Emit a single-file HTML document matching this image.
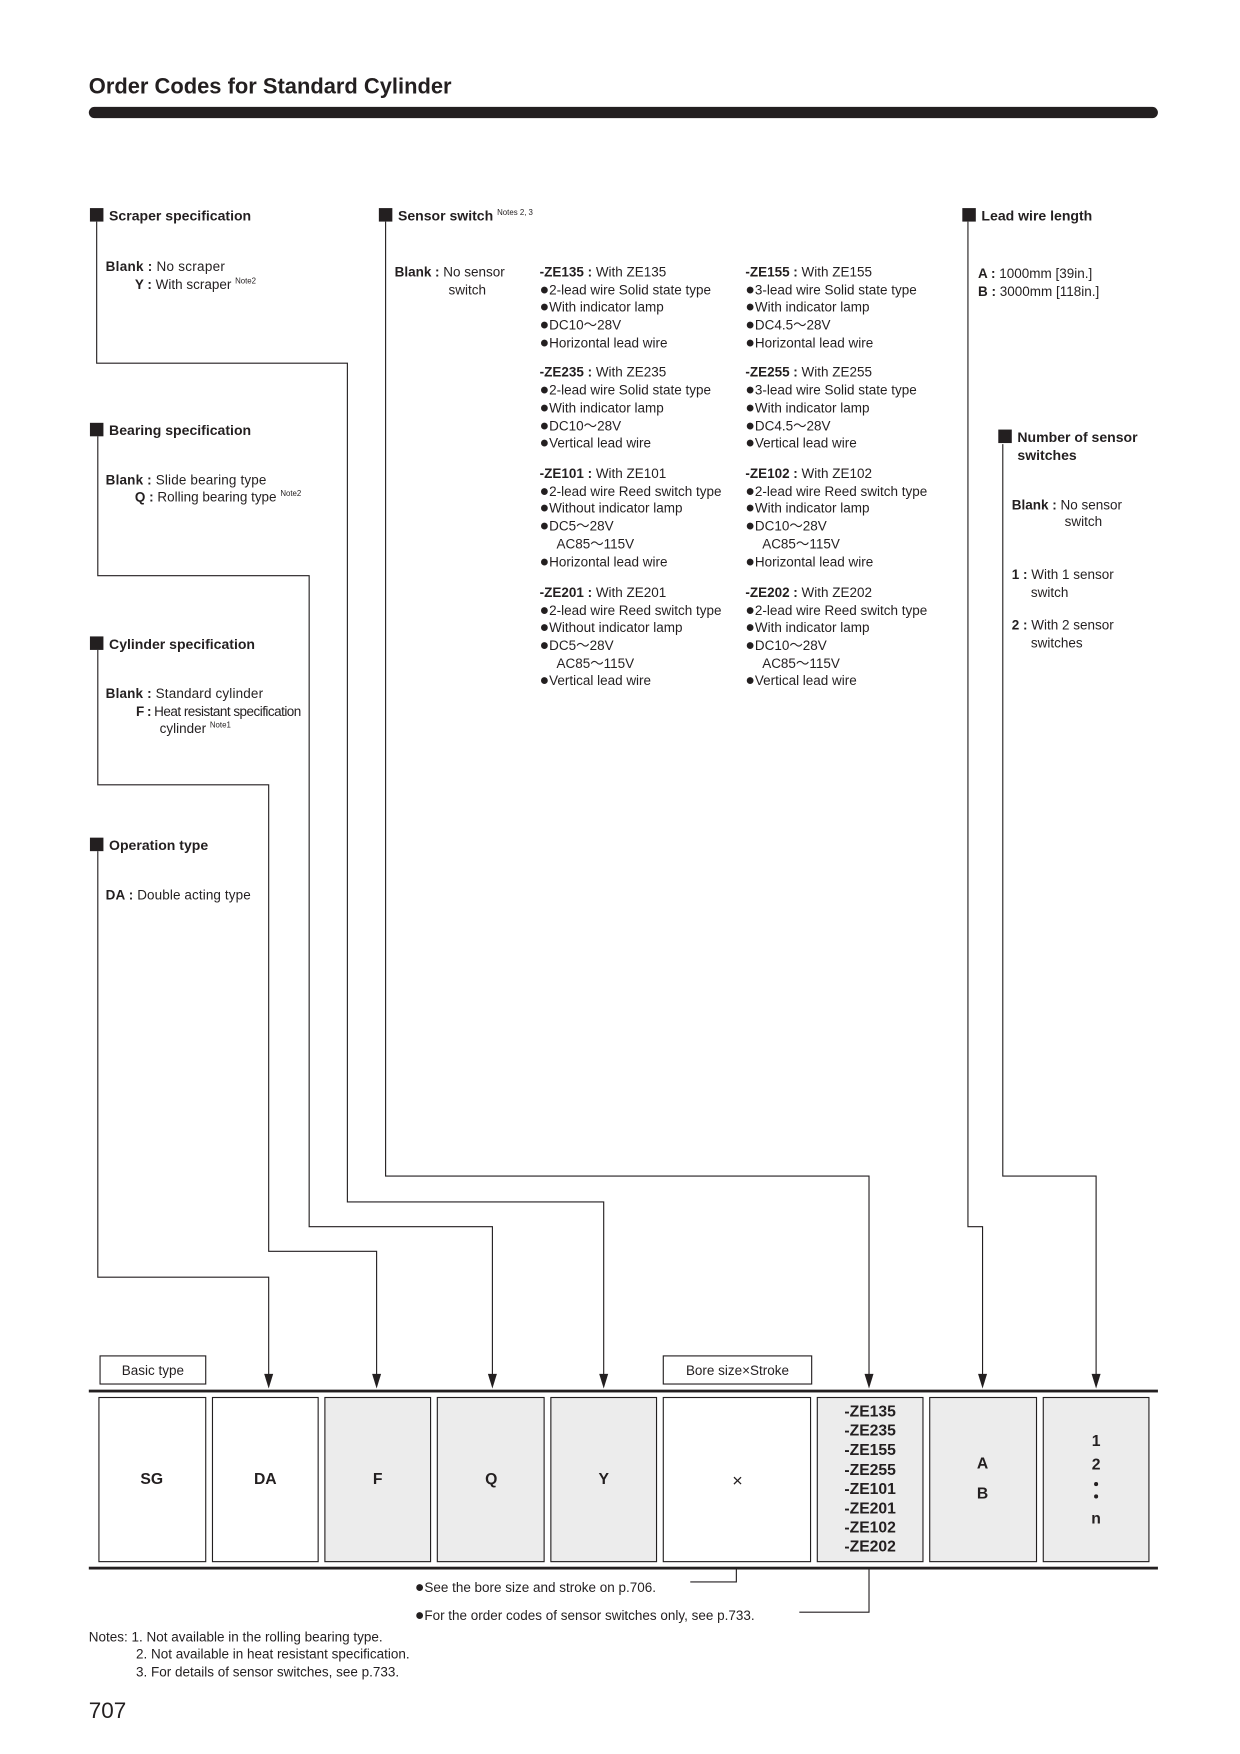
<!DOCTYPE html>
<html><head><meta charset="utf-8"><style>
html,body{margin:0;padding:0;background:#fff}
svg{display:block}
text{font-family:"Liberation Sans",Arial,sans-serif;fill:#231f20}
.b{font-weight:bold}
.s{font-size:12px}
.h{font-size:12.5px;font-weight:bold}
.sup{font-size:7px}
.d{font-size:14px}
</style></head><body>
<svg width="1240" height="1754" viewBox="0 0 1103 1560" xmlns="http://www.w3.org/2000/svg">
<text x="79" y="83" style="font-size:19.5px;font-weight:bold">Order Codes for Standard Cylinder</text>
<rect x="79" y="95" width="951" height="10" rx="5" fill="#231f20"/>

<g stroke="#231f20" stroke-width="1" fill="none">
<polyline points="86,197 86,323 309,323 309,1069 537,1069 537,1224"/>
<polyline points="87,388 87,512 275,512 275,1091 438,1091 438,1224"/>
<polyline points="87,578 87,698 239,698 239,1113 335,1113 335,1224"/>
<polyline points="87,757 87,1136 239,1136 239,1224"/>
<polyline points="343,197 343,1046 773,1046 773,1224"/>
<polyline points="861,197 861,1091 874,1091 874,1224"/>
<polyline points="892,395 892,1046 975,1046 975,1224"/>
<polyline points="655,1396 655,1407 614,1407"/>
<polyline points="773,1396 773,1434 711,1434"/>
<rect x="89" y="1206" width="94" height="25"/>
<rect x="590" y="1206" width="132" height="25"/>
</g>
<g fill="#231f20">
<path d="M235 1222 L243 1222 L239 1235 Z"/>
<path d="M331 1222 L339 1222 L335 1235 Z"/>
<path d="M434 1222 L442 1222 L438 1235 Z"/>
<path d="M533 1222 L541 1222 L537 1235 Z"/>
<path d="M769 1222 L777 1222 L773 1235 Z"/>
<path d="M870 1222 L878 1222 L874 1235 Z"/>
<path d="M971 1222 L979 1222 L975 1235 Z"/>
</g>

<rect x="80" y="185" width="12" height="12" fill="#231f20"/>
<text x="97" y="196" class="h">Scraper specification</text>
<rect x="337" y="185" width="12" height="12" fill="#231f20"/>
<text x="354" y="196" class="h">Sensor switch <tspan class="sup" dy="-5" font-weight="normal">Notes 2, 3</tspan></text>
<rect x="856" y="185" width="12" height="12" fill="#231f20"/>
<text x="873" y="196" class="h">Lead wire length</text>
<rect x="80" y="376" width="12" height="12" fill="#231f20"/>
<text x="97" y="387" class="h">Bearing specification</text>
<rect x="80" y="566" width="12" height="12" fill="#231f20"/>
<text x="97" y="577" class="h">Cylinder specification</text>
<rect x="80" y="745" width="12" height="12" fill="#231f20"/>
<text x="97" y="756" class="h">Operation type</text>
<rect x="888" y="382" width="12" height="12" fill="#231f20"/>
<text x="905" y="393" class="h">Number of sensor</text>
<text x="905" y="409" class="h">switches</text>

<g>
<text x="94" y="241" class="s" textLength="106"><tspan class="b">Blank :</tspan> No scraper</text>
<text x="120" y="257" class="s"><tspan class="b">Y :</tspan> With scraper <tspan class="sup" dy="-5">Note2</tspan></text>
<text x="94" y="431" class="s" textLength="143"><tspan class="b">Blank :</tspan> Slide bearing type</text>
<text x="120" y="446" class="s"><tspan class="b">Q :</tspan> Rolling bearing type <tspan class="sup" dy="-5">Note2</tspan></text>
<text x="94" y="621" class="s" textLength="140"><tspan class="b">Blank :</tspan> Standard cylinder</text>
<text x="121" y="637" class="s" textLength="147"><tspan class="b">F :</tspan> Heat resistant specification</text>
<text x="142" y="652" class="s">cylinder <tspan class="sup" dy="-5">Note1</tspan></text>
<text x="94" y="800" class="s" textLength="129"><tspan class="b">DA :</tspan> Double acting type</text>

<text x="351" y="246" class="s"><tspan class="b">Blank :</tspan> No sensor</text>
<text x="399" y="262" class="s">switch</text>

<text x="870" y="247" class="s"><tspan class="b">A :</tspan> 1000mm [39in.]</text>
<text x="870" y="263" class="s"><tspan class="b">B :</tspan> 3000mm [118in.]</text>

<text x="900" y="453" class="s"><tspan class="b">Blank :</tspan> No sensor</text>
<text x="947" y="468" class="s">switch</text>
<text x="900" y="515" class="s"><tspan class="b">1 :</tspan> With 1 sensor</text>
<text x="917" y="531" class="s">switch</text>
<text x="900" y="560" class="s"><tspan class="b">2 :</tspan> With 2 sensor</text>
<text x="917" y="576" class="s">switches</text>
</g>

<g class="s">
<text x="480" y="246" class="s"><tspan class="b">-ZE135 :</tspan> With ZE135</text>
<text x="480" y="262" class="s"><tspan class="d">●</tspan>2-lead wire Solid state type</text>
<text x="480" y="277" class="s"><tspan class="d">●</tspan>With indicator lamp</text>
<text x="480" y="293" class="s"><tspan class="d">●</tspan>DC10～28V</text>
<text x="480" y="309" class="s"><tspan class="d">●</tspan>Horizontal lead wire</text>
<text x="480" y="335" class="s"><tspan class="b">-ZE235 :</tspan> With ZE235</text>
<text x="480" y="351" class="s"><tspan class="d">●</tspan>2-lead wire Solid state type</text>
<text x="480" y="367" class="s"><tspan class="d">●</tspan>With indicator lamp</text>
<text x="480" y="383" class="s"><tspan class="d">●</tspan>DC10～28V</text>
<text x="480" y="398" class="s"><tspan class="d">●</tspan>Vertical lead wire</text>
<text x="480" y="425" class="s"><tspan class="b">-ZE101 :</tspan> With ZE101</text>
<text x="480" y="441" class="s"><tspan class="d">●</tspan>2-lead wire Reed switch type</text>
<text x="480" y="456" class="s"><tspan class="d">●</tspan>Without indicator lamp</text>
<text x="480" y="472" class="s"><tspan class="d">●</tspan>DC5～28V</text>
<text x="495" y="488" class="s">AC85～115V</text>
<text x="480" y="504" class="s"><tspan class="d">●</tspan>Horizontal lead wire</text>
<text x="480" y="531" class="s"><tspan class="b">-ZE201 :</tspan> With ZE201</text>
<text x="480" y="547" class="s"><tspan class="d">●</tspan>2-lead wire Reed switch type</text>
<text x="480" y="562" class="s"><tspan class="d">●</tspan>Without indicator lamp</text>
<text x="480" y="578" class="s"><tspan class="d">●</tspan>DC5～28V</text>
<text x="495" y="594" class="s">AC85～115V</text>
<text x="480" y="609" class="s"><tspan class="d">●</tspan>Vertical lead wire</text>

<text x="663" y="246" class="s"><tspan class="b">-ZE155 :</tspan> With ZE155</text>
<text x="663" y="262" class="s"><tspan class="d">●</tspan>3-lead wire Solid state type</text>
<text x="663" y="277" class="s"><tspan class="d">●</tspan>With indicator lamp</text>
<text x="663" y="293" class="s"><tspan class="d">●</tspan>DC4.5～28V</text>
<text x="663" y="309" class="s"><tspan class="d">●</tspan>Horizontal lead wire</text>
<text x="663" y="335" class="s"><tspan class="b">-ZE255 :</tspan> With ZE255</text>
<text x="663" y="351" class="s"><tspan class="d">●</tspan>3-lead wire Solid state type</text>
<text x="663" y="367" class="s"><tspan class="d">●</tspan>With indicator lamp</text>
<text x="663" y="383" class="s"><tspan class="d">●</tspan>DC4.5～28V</text>
<text x="663" y="398" class="s"><tspan class="d">●</tspan>Vertical lead wire</text>
<text x="663" y="425" class="s"><tspan class="b">-ZE102 :</tspan> With ZE102</text>
<text x="663" y="441" class="s"><tspan class="d">●</tspan>2-lead wire Reed switch type</text>
<text x="663" y="456" class="s"><tspan class="d">●</tspan>With indicator lamp</text>
<text x="663" y="472" class="s"><tspan class="d">●</tspan>DC10～28V</text>
<text x="678" y="488" class="s">AC85～115V</text>
<text x="663" y="504" class="s"><tspan class="d">●</tspan>Horizontal lead wire</text>
<text x="663" y="531" class="s"><tspan class="b">-ZE202 :</tspan> With ZE202</text>
<text x="663" y="547" class="s"><tspan class="d">●</tspan>2-lead wire Reed switch type</text>
<text x="663" y="562" class="s"><tspan class="d">●</tspan>With indicator lamp</text>
<text x="663" y="578" class="s"><tspan class="d">●</tspan>DC10～28V</text>
<text x="678" y="594" class="s">AC85～115V</text>
<text x="663" y="609" class="s"><tspan class="d">●</tspan>Vertical lead wire</text>
</g>

<text x="136" y="1223" class="s" text-anchor="middle">Basic type</text>
<text x="656" y="1223" class="s" text-anchor="middle">Bore size×Stroke</text>

<rect x="79" y="1236" width="951" height="2.5" fill="#231f20"/>
<rect x="79" y="1393.5" width="951" height="2.5" fill="#231f20"/>
<g stroke="#231f20" stroke-width="1">
<rect x="88" y="1243" width="95" height="146" fill="#fff"/>
<rect x="189" y="1243" width="94" height="146" fill="#fff"/>
<rect x="289" y="1243" width="94" height="146" fill="#ececec"/>
<rect x="389" y="1243" width="95" height="146" fill="#ececec"/>
<rect x="490" y="1243" width="94" height="146" fill="#ececec"/>
<rect x="590" y="1243" width="131" height="146" fill="#fff"/>
<rect x="727" y="1243" width="94" height="146" fill="#ececec"/>
<rect x="827" y="1243" width="95" height="146" fill="#ececec"/>
<rect x="928" y="1243" width="94" height="146" fill="#ececec"/>
</g>
<g style="font-size:14px;font-weight:bold" text-anchor="middle">
<text x="135" y="1320">SG</text>
<text x="236" y="1320">DA</text>
<text x="336" y="1320">F</text>
<text x="437" y="1320">Q</text>
<text x="537" y="1320">Y</text>
<text x="656" y="1322" font-weight="normal" font-size="16">×</text>
<text x="774" y="1260">-ZE135</text>
<text x="774" y="1277">-ZE235</text>
<text x="774" y="1294">-ZE155</text>
<text x="774" y="1312">-ZE255</text>
<text x="774" y="1329">-ZE101</text>
<text x="774" y="1346">-ZE201</text>
<text x="774" y="1363">-ZE102</text>
<text x="774" y="1380">-ZE202</text>
<text x="874" y="1306">A</text>
<text x="874" y="1333">B</text>
<text x="975" y="1286">1</text>
<text x="975" y="1307">2</text>
<text x="975" y="1355">n</text>
</g>
<circle cx="975" cy="1320" r="1.8" fill="#231f20"/>
<circle cx="975" cy="1331" r="1.8" fill="#231f20"/>

<text x="369" y="1416" class="s"><tspan class="d">●</tspan>See the bore size and stroke on p.706.</text>
<text x="369" y="1441" class="s"><tspan class="d">●</tspan>For the order codes of sensor switches only, see p.733.</text>
<text x="79" y="1460" class="s">Notes: 1.  Not available in the rolling bearing type.</text>
<text x="121" y="1475" class="s">2.  Not available in heat resistant specification.</text>
<text x="121" y="1491" class="s">3.  For details of sensor switches, see p.733.</text>
<text x="79" y="1528" style="font-size:20px">707</text>
</svg>
</body></html>
